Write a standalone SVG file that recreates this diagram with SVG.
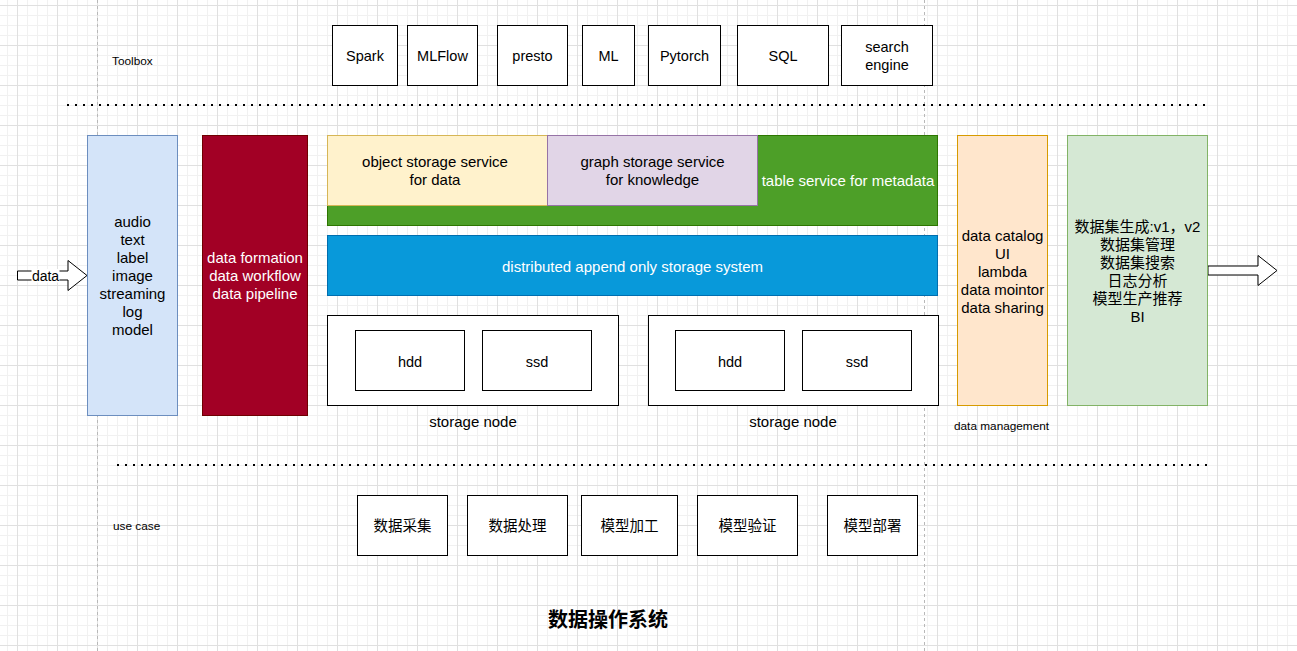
<svg xmlns="http://www.w3.org/2000/svg" width="1297" height="651" viewBox="0 0 1297 651">
<style>
text{font-family:"Liberation Sans",Arial,Helvetica,"Noto Sans CJK SC",sans-serif;fill:#000;text-anchor:middle}
.cjk{font-family:"Liberation Sans","Noto Sans CJK SC",sans-serif}
.s15{font-size:15px}
.s14{font-size:14.5px}
.sm{font-size:11.8px;text-anchor:start}
.w{fill:#fff}
.box{fill:#fff;stroke:#000;stroke-width:1}
.dot{fill:none;stroke:#000;stroke-width:2;stroke-dasharray:2 6}
.vd{fill:none;stroke:#b8b8b8;stroke-width:1;stroke-dasharray:3 3}
.arr{fill:#fff;stroke:#000;stroke-width:1}
</style>
<defs>
<pattern id="grid" x="17" y="5" width="40" height="40" patternUnits="userSpaceOnUse">
<path d="M10.5 0V40M20.5 0V40M30.5 0V40M0 10.5H40M0 20.5H40M0 30.5H40" stroke="#f1f1f1" stroke-width="1" fill="none"/>
<path d="M0.5 0V40M0 0.5H40" stroke="#e0e0e0" stroke-width="1" fill="none"/>
</pattern>
</defs>
<rect x="0" y="0" width="1297" height="651" fill="#fff"/>
<rect x="0" y="0" width="1297" height="651" fill="url(#grid)"/>

<g id="guides">
<line class="vd" x1="97.5" y1="0" x2="97.5" y2="651"/>
<line class="vd" x1="924.5" y1="0" x2="924.5" y2="651"/>
<line class="dot" x1="67" y1="105" x2="1208" y2="105"/>
<line class="dot" x1="117" y1="465" x2="1208" y2="465"/>
</g>

<g id="labels">
<text class="sm" x="112" y="65">Toolbox</text>
<text class="sm" x="113" y="530">use case</text>
<text class="sm" x="954" y="430">data management</text>
<text class="cjk" x="608" y="627" style="font-size:20px;font-weight:bold">数据操作系统</text>
</g>

<g id="toolbox">
<g id="spark"><rect class="box" x="332.5" y="25.5" width="65" height="60"/><text class="s14" x="365" y="60.5">Spark</text></g>
<g id="mlflow"><rect class="box" x="407.5" y="25.5" width="70" height="60"/><text class="s14" x="442.5" y="60.5">MLFlow</text></g>
<g id="presto"><rect class="box" x="497.5" y="25.5" width="70" height="60"/><text class="s14" x="532.5" y="60.5">presto</text></g>
<g id="ml"><rect class="box" x="582.5" y="25.5" width="52" height="60"/><text class="s14" x="608.5" y="60.5">ML</text></g>
<g id="pytorch"><rect class="box" x="648.5" y="25.5" width="72" height="60"/><text class="s14" x="684.5" y="60.5">Pytorch</text></g>
<g id="sql"><rect class="box" x="737.5" y="25.5" width="91" height="60"/><text class="s14" x="783" y="60.5">SQL</text></g>
<g id="search"><rect class="box" x="841.5" y="25.5" width="91" height="60"/><text class="s14" x="887" y="52">search</text><text class="s14" x="887" y="69.5">engine</text></g>
</g>

<g id="connectors">
<polygon class="arr" points="17.5,271 68,271 68,260.5 87,275.5 68,290.5 68,280 17.5,280"/>
<rect x="31.5" y="269" width="28" height="13.5" fill="#fff"/>
<text x="45.5" y="281" style="font-size:14px">data</text>
<polygon class="arr" points="1208,266 1258,266 1258,255.5 1277,270.5 1258,285.5 1258,275 1208,275"/>
</g>

<g id="datatypes">
<rect x="87.5" y="135.5" width="90" height="280" fill="#d4e4f9" stroke="#6c8ebf"/>
<text class="s15" x="132.5" y="227.3">audio</text>
<text class="s15" x="132.5" y="245.3">text</text>
<text class="s15" x="132.5" y="263.3">label</text>
<text class="s15" x="132.5" y="281.3">image</text>
<text class="s15" x="132.5" y="299.3">streaming</text>
<text class="s15" x="132.5" y="317.3">log</text>
<text class="s15" x="132.5" y="335.3">model</text>
</g>

<g id="dataflow">
<rect x="202.5" y="135.5" width="105" height="280" fill="#a20025" stroke="#6f0000"/>
<text class="s15 w" x="255" y="263.3">data formation</text>
<text class="s15 w" x="255" y="281.3">data workflow</text>
<text class="s15 w" x="255" y="299.3">data pipeline</text>
</g>

<g id="table-service">
<rect x="327.5" y="135.5" width="610" height="90" fill="#4d9f28" stroke="#2d7600"/>
<text class="s15 w" x="848" y="186.3">table service for metadata</text>
</g>
<g id="object-storage">
<rect x="327.5" y="135.5" width="220" height="70" fill="#fff2cc" stroke="#d6b656"/>
<text class="s15" x="435" y="167.3">object storage service</text>
<text class="s15" x="435" y="185.3">for data</text>
</g>
<g id="graph-storage">
<rect x="547.5" y="135.5" width="210" height="70" fill="#e1d5e7" stroke="#9673a6"/>
<text class="s15" x="652.5" y="167.3">graph storage service</text>
<text class="s15" x="652.5" y="185.3">for knowledge</text>
</g>
<g id="append-storage">
<rect x="327.5" y="235.5" width="610" height="60" fill="#0899da" stroke="#006eaf"/>
<text class="s15 w" x="632.5" y="271.5">distributed append only storage system</text>
</g>

<g id="storage-node-1">
<rect class="box" x="327.5" y="315.5" width="291" height="90"/>
<rect class="box" x="355.5" y="330.5" width="109" height="60"/>
<text class="s14" x="410" y="366.8">hdd</text>
<rect class="box" x="482.5" y="330.5" width="109" height="60"/>
<text class="s14" x="537" y="366.8">ssd</text>
<text class="s15" x="473" y="427">storage node</text>
</g>
<g id="storage-node-2">
<rect class="box" x="648.5" y="315.5" width="290" height="90"/>
<rect class="box" x="675.5" y="330.5" width="109" height="60"/>
<text class="s14" x="730" y="366.8">hdd</text>
<rect class="box" x="802.5" y="330.5" width="109" height="60"/>
<text class="s14" x="857" y="366.8">ssd</text>
<text class="s15" x="793" y="427">storage node</text>
</g>

<g id="data-management">
<rect x="957.5" y="135.5" width="90" height="270" fill="#ffe6cc" stroke="#d79b00"/>
<text class="s15" x="1002.5" y="240.6">data catalog</text>
<text class="s15" x="1002.5" y="258.6">UI</text>
<text class="s15" x="1002.5" y="276.6">lambda</text>
<text class="s15" x="1002.5" y="294.6">data mointor</text>
<text class="s15" x="1002.5" y="312.6">data sharing</text>
</g>

<g id="applications">
<rect x="1067.5" y="135.5" width="140" height="270" fill="#d5e8d4" stroke="#82b366"/>
<text class="s15 cjk" x="1137.5" y="232">数据集生成:v1，v2</text>
<text class="s15 cjk" x="1137.5" y="250">数据集管理</text>
<text class="s15 cjk" x="1137.5" y="268">数据集搜索</text>
<text class="s15 cjk" x="1137.5" y="286">日志分析</text>
<text class="s15 cjk" x="1137.5" y="304">模型生产推荐</text>
<text class="s15 cjk" x="1137.5" y="322">BI</text>
</g>

<g id="use-cases">
<g id="uc1"><rect class="box" x="357.5" y="495.5" width="90" height="60"/><text class="s14 cjk" x="402.5" y="530.5">数据采集</text></g>
<g id="uc2"><rect class="box" x="467.5" y="495.5" width="100" height="60"/><text class="s14 cjk" x="517.5" y="530.5">数据处理</text></g>
<g id="uc3"><rect class="box" x="581.5" y="495.5" width="96" height="60"/><text class="s14 cjk" x="629.5" y="530.5">模型加工</text></g>
<g id="uc4"><rect class="box" x="697.5" y="495.5" width="100" height="60"/><text class="s14 cjk" x="747.5" y="530.5">模型验证</text></g>
<g id="uc5"><rect class="box" x="827.5" y="495.5" width="90" height="60"/><text class="s14 cjk" x="872.5" y="530.5">模型部署</text></g>
</g>
</svg>
